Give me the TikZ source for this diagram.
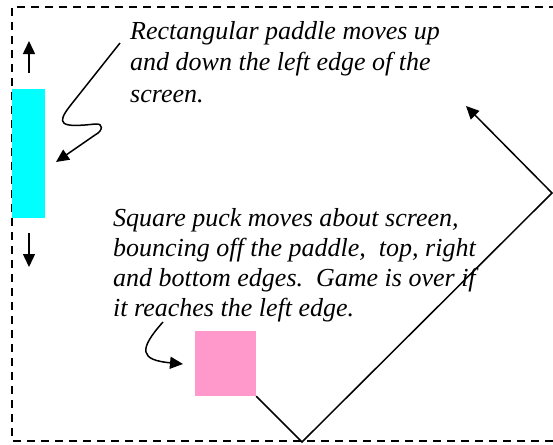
\documentclass[tikz,border=0pt]{standalone}
\usepackage{fontspec}
\setmainfont{Liberation Serif}
\usetikzlibrary{arrows.meta}
\definecolor{paddlecyan}{HTML}{00FFFF}
\definecolor{puckpink}{HTML}{FF99CC}
\tikzset{
  note/.style={anchor=north west, inner sep=0pt, align=left,
    font=\fontsize{26}{31.5}\selectfont\itshape},
  pointer/.style={line width=1.5pt, -{Triangle[length=13pt,width=12pt]}},
}
\begin{document}
\begin{tikzpicture}[x=1pt,y=-1pt]
		\useasboundingbox (0,0) rectangle (553,444);

		% screen edges
		\draw [line width=1.3pt, dash pattern=on 8pt off 6pt] (557,7) -- (12,7) -- (12,441) -- (557,441);

		% paddle and puck
		\node [fill=paddlecyan, inner sep=0pt, minimum width=33pt, minimum height=129pt] (paddle) at (28.5,153.5) {};
		\node [fill=puckpink, inner sep=0pt, minimum width=61pt, minimum height=65pt] (puck) at (225.5,363.5) {};

		% paddle movement
		\coordinate (uptail) at (29,73);
		\coordinate (uptip) at (29,41);
		\coordinate (downtail) at (29,233);
		\coordinate (downtip) at (29,267);
		\draw [pointer] (uptail) -- (uptip);
		\draw [pointer] (downtail) -- (downtip);

		% notes
		\node [note] (paddlenote) at (130,21) {Rectangular paddle moves up\\and down the left edge of the\\screen.};
		\node [note, font=\fontsize{26}{30}\selectfont\itshape] (pucknote) at (113,208) {Square puck moves about screen,\\bouncing off the paddle,\ \ top, right\\and bottom edges.\ \ Game is over if\\it reaches the left edge.};

		% squiggly pointers
		\coordinate (paddletail) at (120,43);
		\coordinate (paddletip) at (56,162);
		\draw [pointer] (paddletail) -- (70,106) .. controls (56,124) and (60,128) .. (95,124)
			.. controls (104,123) and (103,131) .. (95,135) -- (paddletip);
		\coordinate (pucktail) at (163,322);
		\coordinate (pucktip) at (183,364);
		\draw [pointer] (pucktail) .. controls (138,350) and (140,360) .. (pucktip);

		% path of the puck
		\coordinate (bottomhit) at (302,442);
		\coordinate (righthit) at (552,193);
		\coordinate (aim) at (466,106);
		\draw [pointer] (puck.south east) -- (bottomhit) -- (righthit) -- (aim);

		\end{tikzpicture}
\end{document}
